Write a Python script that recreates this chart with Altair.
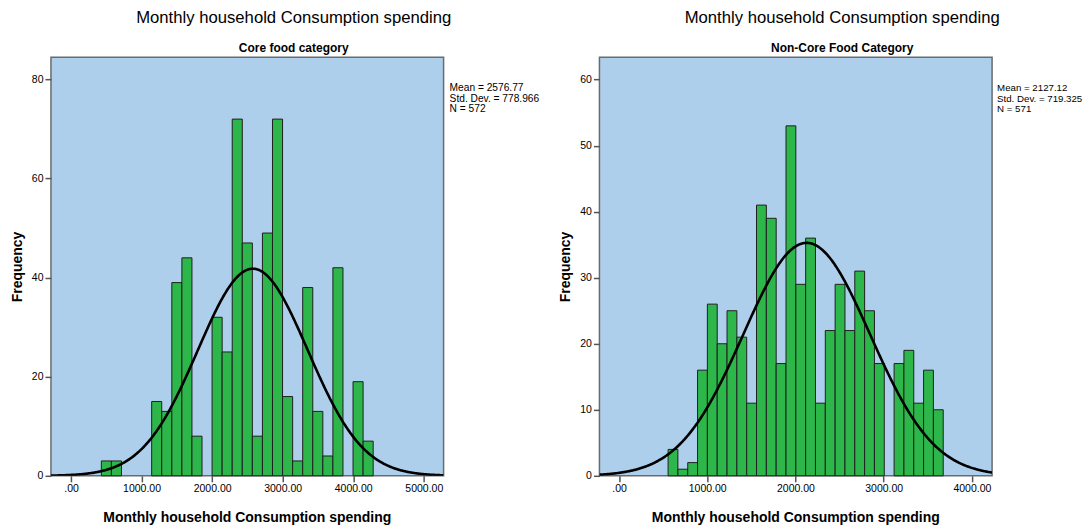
import math
import altair as alt
import pandas as pd

# ---------------- data ----------------
core_bin_start = 430.0
core_bin_width = 142.7
core_counts = [3, 3, 0, 0, 0, 15, 13, 39, 44, 8, 0, 32, 25, 72, 47, 8, 49, 72, 16, 3, 38, 13, 4, 42, 0, 19, 7]
core_mean = 2576.77
core_sd = 778.966
core_n = 572

noncore_bin_start = 556.0
noncore_bin_width = 111.4
noncore_counts = [4, 1, 2, 16, 26, 20, 25, 21, 11, 41, 39, 17, 53, 29, 36, 11, 22, 29, 22, 31, 25, 17, 0, 17, 19, 11, 16, 10]
noncore_mean = 2127.12
noncore_sd = 719.325
noncore_n = 571

core_x_ticks = [0, 1000, 2000, 3000, 4000, 5000]
noncore_x_ticks = [0, 1000, 2000, 3000, 4000]
core_y_ticks = [0, 20, 40, 60, 80]
noncore_y_ticks = [0, 10, 20, 30, 40, 50, 60]

main_title = "Monthly household Consumption spending"
x_title = "Monthly household Consumption spending"
y_title = "Frequency"
core_subtitle = "Core food category"
noncore_subtitle = "Non-Core Food Category"

# ---------------- style ----------------
FONT = "Liberation Sans"
BLUE = "#AECFEC"
GREEN = "#2DB74A"
W, H = 393, 419


def text_layer(text, x, y, size, weight="normal", angle=0, align="center",
               baseline="middle", line_height=None):
    kw = dict(text=text, font=FONT, fontSize=size, fontWeight=weight, angle=angle,
              align=align, baseline=baseline, color="black")
    if line_height is not None:
        kw["lineBreak"] = "\n"
        kw["lineHeight"] = line_height
    return alt.Chart(pd.DataFrame({"d": [0]})).mark_text(**kw).encode(
        x=alt.value(x), y=alt.value(y))


def panel(subtitle, start, width, counts, mean, sd, n, xdom, ydom, xticks, yticks,
          stats_x, stats_size):
    lo = [start + i * width for i in range(len(counts))]
    df = pd.DataFrame({"lo": lo, "count": counts})
    df["hi"] = df["lo"] + width
    df["base"] = 0
    df = df[df["count"] > 0]

    xs = alt.Scale(domain=xdom, nice=False, zero=False)
    ys = alt.Scale(domain=ydom, nice=False, zero=True)
    xaxis = alt.Axis(values=xticks, title=None, grid=False, domain=False,
                     labelExpr="datum.value == 0 ? '.00' : format(datum.value, '.2f')",
                     tickSize=6, tickColor="#555555", tickWidth=1.5,
                     labelFont=FONT, labelFontSize=10.5, labelColor="black",
                     labelPadding=2, labelFlush=False)
    yaxis = alt.Axis(values=yticks, title=None, grid=False, domain=False,
                     format="d", tickSize=6, tickColor="#555555", tickWidth=1.5,
                     labelFont=FONT, labelFontSize=10.5, labelColor="black",
                     labelPadding=2, labelFlush=False)

    bars = alt.Chart(df).mark_rect(fill=GREEN, stroke="#1f1f1f", strokeWidth=1).encode(
        x=alt.X("lo:Q", scale=xs, axis=xaxis),
        x2="hi:Q",
        y=alt.Y("count:Q", scale=ys, axis=yaxis),
        y2="base:Q",
    )

    k = n * width / (sd * math.sqrt(2 * math.pi))
    curve = alt.Chart(alt.sequence(xdom[0], xdom[1] + 1, (xdom[1] - xdom[0]) / 500, as_="v")).transform_calculate(
        f=f"{k} * exp(-0.5 * pow((datum.v - {mean}) / {sd}, 2))"
    ).mark_line(color="black", strokeWidth=2.6, clip=True).encode(
        x=alt.X("v:Q", scale=xs, axis=xaxis),
        y=alt.Y("f:Q", scale=ys, axis=yaxis),
    )

    stats = f"Mean = {mean:.2f}\nStd. Dev. = {sd:.3f}\nN = {n}"
    layers = [
        bars,
        curve,
        text_layer(main_title, 243, -39, 16.7),
        text_layer(subtitle, 243, -9, 12, weight="bold"),
        text_layer(y_title, -33, 210, 14, weight="bold", angle=270),
        text_layer(x_title, W / 2, 461, 14, weight="bold"),
        text_layer(stats, stats_x, 26, stats_size, align="left", baseline="top", line_height=10.5),
    ]
    return alt.layer(*layers).properties(width=W, height=H)


left = panel(core_subtitle, core_bin_start, core_bin_width, core_counts, core_mean, core_sd, core_n,
             [-284, 5281], [0, 84.5], core_x_ticks, core_y_ticks, 399, 10.2)
right = panel(noncore_subtitle, noncore_bin_start, noncore_bin_width, noncore_counts, noncore_mean,
              noncore_sd, noncore_n, [-222, 4229], [0, 63.4], noncore_x_ticks, noncore_y_ticks, 398, 9.7)

chart = alt.hconcat(left, right, spacing=156, bounds="flush").properties(
    padding={"left": 2, "top": 1, "right": 0, "bottom": 2},
    background="white",
).configure_view(
    fill=BLUE, stroke="#6b6b6b", strokeWidth=1.5
)

chart.save("out.html", embed_options={"renderer": "svg", "actions": False})
